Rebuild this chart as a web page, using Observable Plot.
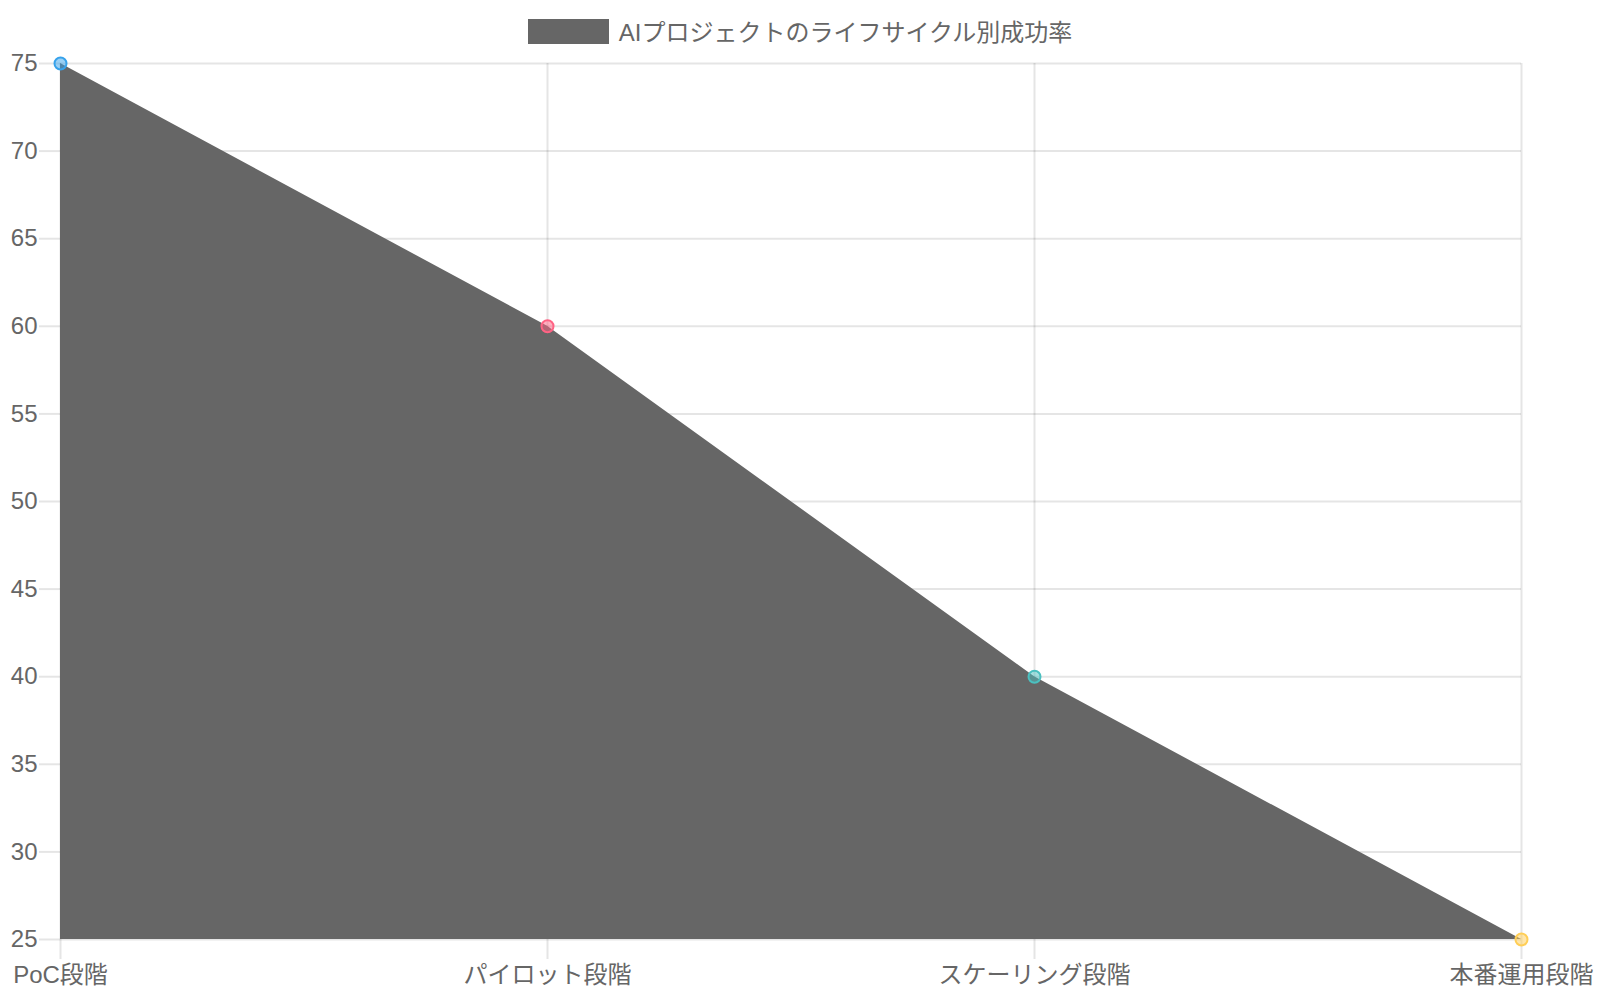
<!DOCTYPE html>
<html><head><meta charset="utf-8">
<script src="https://cdn.jsdelivr.net/npm/d3@7"></script>
<script src="https://cdn.jsdelivr.net/npm/@observablehq/plot@0.6"></script>
<style>
html,body{margin:0;padding:0;background:#fff;}
body{width:1600px;height:1000px;overflow:hidden;font-family:"Liberation Sans","Noto Sans CJK JP",sans-serif;}
#legend{height:50px;display:flex;justify-content:center;align-items:flex-start;}
#legend .sw{width:81px;height:25px;background:#666;margin-top:19px;}
#legend .lb{font-size:24px;color:#666;margin-left:10px;margin-top:19px;line-height:28px;}
</style>
</head><body>
<div id="legend"><div class="sw"></div><div class="lb">AIプロジェクトのライフサイクル別成功率</div></div>
<div id="chart"></div>
<script>
const stages = ["PoC段階", "パイロット段階", "スケーリング段階", "本番運用段階"];
const successRates = [75, 60, 40, 25];
const pointColors = ["rgb(54,162,235)", "rgb(255,99,132)", "rgb(75,192,192)", "rgb(255,206,86)"];
const yTicks = [25, 30, 35, 40, 45, 50, 55, 60, 65, 70, 75];

const data = stages.map((s, i) => ({stage: s, value: successRates[i], color: pointColors[i]}));
const font = "\"Liberation Sans\",\"Noto Sans CJK JP\",sans-serif";

const chart = Plot.plot({
  width: 1600,
  height: 950,
  marginTop: 13,
  marginBottom: 61,
  marginLeft: 59,
  marginRight: 79,
  style: {fontFamily: font, fontSize: "24px", color: "#666", background: "transparent"},
  x: {type: "point", domain: stages, padding: 0},
  y: {domain: [25, 75]},
  marks: [
    Plot.gridY(yTicks, {stroke: "#000", strokeOpacity: 0.1, strokeWidth: 2}),
    Plot.gridX(stages, {stroke: "#000", strokeOpacity: 0.1, strokeWidth: 2}),
    Plot.areaY(data, {x: "stage", y1: 25, y2: "value", fill: "#666", curve: "linear"}),
    Plot.axisY(yTicks, {tickSize: 20, tickPadding: 2, stroke: "#000", strokeOpacity: 0.1, strokeWidth: 2, fill: "#666", fontSize: 24, label: null}),
    Plot.axisX(stages, {tickSize: 20, tickPadding: 6, stroke: "#000", strokeOpacity: 0.1, strokeWidth: 2, fill: "#666", fontSize: 24, label: null}),
    Plot.dot(data, {x: "stage", y: "value", r: 6, fill: "color", fillOpacity: 0.5, stroke: "color", strokeWidth: 2})
  ]
});
document.getElementById("chart").appendChild(chart);
</script>
</body></html>
